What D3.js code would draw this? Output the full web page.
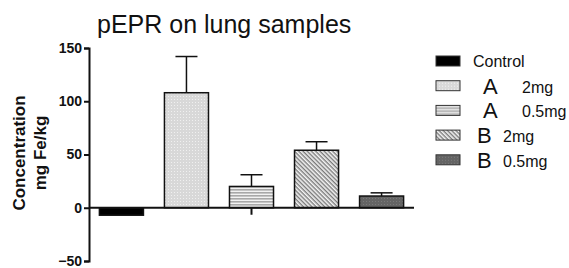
<!DOCTYPE html>
<html>
<head>
<meta charset="utf-8">
<script src="https://cdn.jsdelivr.net/npm/d3@7"></script>
<style>
  body { margin: 0; background: #fff; }
  text { font-family: Arial, "Liberation Sans", sans-serif; }
</style>
</head>
<body>
<div id="chart"></div>
<script>
// data
const categories = ["Control", "A 2mg", "A 0.5mg", "B 2mg", "B 0.5mg"];
const means = [-7, 108, 20, 54, 11];
const errs = [0, 34, 11, 8, 3];
const yTicks = [-50, 0, 50, 100, 150];
const title = "pEPR on lung samples";
const yLabel = ["Concentration", "mg Fe/kg"];

const width = 569, height = 268;
const svg = d3.select("#chart").append("svg")
    .attr("width", width).attr("height", height);

// fill patterns, one per group
const defs = svg.append("defs");
function pat(id, w, h, draw, transform) {
    let p = defs.append("pattern").attr("id", id)
        .attr("patternUnits", "userSpaceOnUse")
        .attr("width", w).attr("height", h);
    if (transform) p.attr("patternTransform", transform);
    draw(p);
}
pat("p1", 3, 3, p => {
    p.append("rect").attr("width", 3).attr("height", 3).attr("fill", "#d8d8d8");
    p.append("rect").attr("width", 1).attr("height", 1).attr("fill", "#f0f0f0");
});
pat("p2", 4, 3, p => {
    p.append("rect").attr("width", 4).attr("height", 3).attr("fill", "#f2f2f2");
    p.append("rect").attr("width", 4).attr("height", 1.6).attr("fill", "#a8a8a8");
});
pat("p3", 3, 3, p => {
    p.append("rect").attr("width", 3).attr("height", 3).attr("fill", "#f4f4f4");
    p.append("rect").attr("width", 3).attr("height", 1.4).attr("fill", "#7a7a7a");
}, "rotate(45)");
pat("p4", 3, 3, p => {
    p.append("rect").attr("width", 3).attr("height", 3).attr("fill", "#646464");
    p.append("rect").attr("width", 1).attr("height", 1).attr("fill", "#7a7a7a");
});
const fills = ["#000", "url(#p1)", "url(#p2)", "url(#p3)", "url(#p4)"];

const rowsData = categories.map((c, i) => ({cat: c, v: means[i], e: errs[i], fill: fills[i]}));

const x = d3.scaleBand().domain(categories)
    .range([89, 414]).paddingInner(0.323).paddingOuter(0.16);
const y = d3.scaleLinear().domain([-50, 150]).range([261, 48]);

// title
svg.append("text").attr("x", 97).attr("y", 33)
    .attr("font-size", 25).attr("fill", "#111").text(title);

// y label, two rotated lines
const yl = svg.append("text")
    .attr("transform", "translate(25,153) rotate(-90)")
    .attr("text-anchor", "middle").attr("font-size", 17)
    .attr("font-weight", "bold").attr("fill", "#111");
yLabel.forEach((t, i) => yl.append("tspan").attr("x", 0).attr("dy", i ? 21 : 0).text(t));

// bars
svg.selectAll("rect.bar").data(rowsData).join("rect")
    .attr("class", "bar")
    .attr("x", d => x(d.cat))
    .attr("width", x.bandwidth())
    .attr("y", d => y(Math.max(0, d.v)))
    .attr("height", d => Math.abs(y(d.v) - y(0)))
    .attr("fill", d => d.fill)
    .attr("stroke", "#111").attr("stroke-width", 1.5);

// error bars (upper only)
const eb = svg.selectAll("g.err").data(rowsData.filter(d => d.e > 0)).join("g").attr("class", "err");
eb.append("line")
    .attr("x1", d => x(d.cat) + x.bandwidth() / 2)
    .attr("x2", d => x(d.cat) + x.bandwidth() / 2)
    .attr("y1", d => y(d.v))
    .attr("y2", d => y(d.v + d.e))
    .attr("stroke", "#111").attr("stroke-width", 1.5);
eb.append("line")
    .attr("x1", d => x(d.cat) + x.bandwidth() / 4)
    .attr("x2", d => x(d.cat) + x.bandwidth() * 3 / 4)
    .attr("y1", d => y(d.v + d.e))
    .attr("y2", d => y(d.v + d.e))
    .attr("stroke", "#111").attr("stroke-width", 1.5);

// axes
const yAxis = svg.append("g").attr("transform", "translate(89,0)")
    .call(d3.axisLeft(y).tickValues(yTicks).tickSize(5).tickPadding(2));
yAxis.selectAll("text").attr("font-size", 14).attr("font-weight", "bold")
    .attr("fill", "#111").style("font-family", "Arial, 'Liberation Sans', sans-serif");

const xAxis = svg.append("g").attr("transform", "translate(0," + y(0) + ")")
    .call(d3.axisBottom(x).tickValues([categories[2]]).tickSize(7).tickFormat(""));
xAxis.select(".domain").attr("d", "M89,0H414");

svg.selectAll(".domain, .tick line").attr("stroke", "#111").attr("stroke-width", 2);

// legend
const legend = svg.append("g");
const rows = legend.selectAll("g").data(rowsData).join("g")
    .attr("transform", (d, i) => "translate(436," + (61 + i * 24.7) + ")");
rows.append("rect").attr("x", 0).attr("y", -5).attr("width", 24).attr("height", 10)
    .attr("fill", d => d.fill).attr("stroke", "#333").attr("stroke-width", 1);
rows.each(function(d) {
    let g = d3.select(this);
    let parts = d.cat.split(" ");
    if (parts.length == 1) {
        g.append("text").attr("x", 37).attr("y", 6).attr("font-size", 16)
            .attr("fill", "#111").text(d.cat);
    } else {
        let isA = parts[0] == "A";
        g.append("text").attr("x", isA ? 47 : 41).attr("y", 8).attr("font-size", 22)
            .attr("fill", "#111").text(parts[0]);
        g.append("text").attr("x", isA ? 86 : 67).attr("y", 7).attr("font-size", 16)
            .attr("fill", "#111").text(parts[1]);
    }
});
</script>
</body>
</html>
